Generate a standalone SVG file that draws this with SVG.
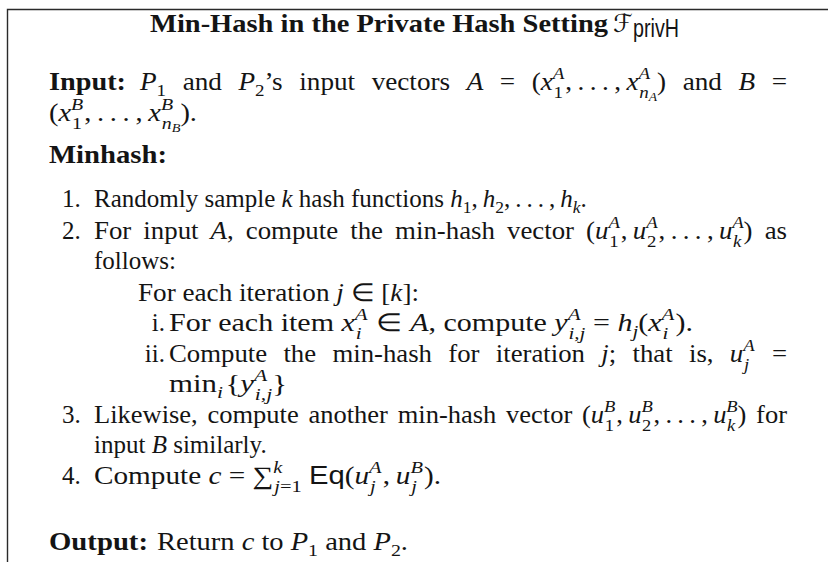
<svg xmlns="http://www.w3.org/2000/svg" width="828" height="562" viewBox="0 0 828 562">
<style>
text{font-family:"Liberation Serif","Times New Roman",serif;font-size:25px;fill:#141414}
.b{font-weight:bold}
.i{font-style:italic}
.s{font-size:17.5px}
.ss{font-size:12.5px}
.sf{font-family:"Liberation Sans",Arial,sans-serif;font-style:normal}
.cal{font-family:"DejaVu Serif","DejaVu Sans",serif;font-style:italic}
.frame{fill:none;stroke:#2a2a2a;stroke-width:1.4}
</style>
<rect width="828" height="562" fill="#fff"/>
<g id="frame"><path class="frame" d="M7.5,562 V9.5 H828"/></g>
<g id="title">
<text class="b" x="150" y="32" font-size="23" textLength="458" lengthAdjust="spacingAndGlyphs">Min-Hash in the Private Hash Setting</text>
<text class="cal" x="613" y="32" font-size="23">ℱ</text>
<text class="sf" x="633" y="37" font-size="15" textLength="46" lengthAdjust="spacingAndGlyphs">privH</text>
</g>
<g id="input">
<text class="b" x="49" y="90" textLength="77" lengthAdjust="spacingAndGlyphs">Input:</text>
<text x="140" y="90" word-spacing="9" textLength="647" lengthAdjust="spacingAndGlyphs"><tspan class="i">P</tspan><tspan class="s" dy="6">1</tspan><tspan dy="-6"> and </tspan><tspan class="i">P</tspan><tspan class="s" dy="6">2</tspan><tspan dy="-6">’s input vectors </tspan><tspan class="i">A</tspan> = (<tspan class="i">x</tspan><tspan class="s i" dy="-11">A</tspan><tspan class="s" dx="-10" dy="19">1</tspan><tspan dy="-8" dx="2">,&#8201;.&#8201;.&#8201;.&#8201;,&#8201;</tspan><tspan class="i">x</tspan><tspan class="s i" dy="-11">A</tspan><tspan class="s i" dx="-10" dy="19">n</tspan><tspan class="ss i" dy="3">A</tspan><tspan dy="-11">) and </tspan><tspan class="i">B</tspan> =</text>
<text x="49" y="121" textLength="148" lengthAdjust="spacingAndGlyphs">(<tspan class="i">x</tspan><tspan class="s i" dy="-11">B</tspan><tspan class="s" dx="-10" dy="19">1</tspan><tspan dy="-8" dx="2">,&#8201;.&#8201;.&#8201;.&#8201;,&#8201;</tspan><tspan class="i">x</tspan><tspan class="s i" dy="-11">B</tspan><tspan class="s i" dx="-10" dy="19">n</tspan><tspan class="ss i" dy="3">B</tspan><tspan dy="-11">).</tspan></text>
</g>
<g id="minhash">
<text class="b" x="49" y="163" textLength="118" lengthAdjust="spacingAndGlyphs">Minhash:</text>
<text x="62" y="207">1.</text>
<text x="94" y="207">Randomly sample <tspan class="i">k</tspan> hash functions <tspan class="i">h</tspan><tspan class="s" dy="6">1</tspan><tspan dy="-6">,&#8201;</tspan><tspan class="i">h</tspan><tspan class="s" dy="6">2</tspan><tspan dy="-6">,&#8201;.&#8201;.&#8201;.&#8201;,&#8201;</tspan><tspan class="i">h</tspan><tspan class="s i" dy="6">k</tspan><tspan dy="-6">.</tspan></text>
<text x="62" y="239">2.</text>
<text x="94" y="239" word-spacing="5" textLength="693" lengthAdjust="spacingAndGlyphs">For input <tspan class="i">A</tspan>, compute the min-hash vector (<tspan class="i">u</tspan><tspan class="s i" dy="-11">A</tspan><tspan class="s" dx="-10" dy="19">1</tspan><tspan dy="-8" dx="2">,&#8201;</tspan><tspan class="i">u</tspan><tspan class="s i" dy="-11">A</tspan><tspan class="s" dx="-10" dy="19">2</tspan><tspan dy="-8" dx="2">,&#8201;.&#8201;.&#8201;.&#8201;,&#8201;</tspan><tspan class="i">u</tspan><tspan class="s i" dy="-11">A</tspan><tspan class="s i" dx="-10" dy="19">k</tspan><tspan dy="-8" dx="2">) as</tspan></text>
<text x="94" y="269">follows:</text>
<text x="138" y="301" textLength="281" lengthAdjust="spacingAndGlyphs">For each iteration <tspan class="i">j</tspan> ∈ [<tspan class="i">k</tspan>]:</text>
<text x="165" y="331" text-anchor="end">i.</text>
<text x="169" y="331" textLength="524" lengthAdjust="spacingAndGlyphs">For each item <tspan class="i">x</tspan><tspan class="s i" dy="-11">A</tspan><tspan class="s i" dx="-10" dy="19">i</tspan><tspan dy="-8" dx="6"> ∈ </tspan><tspan class="i">A</tspan>, compute <tspan class="i">y</tspan><tspan class="s i" dy="-11">A</tspan><tspan class="s i" dx="-10" dy="19">i,j</tspan><tspan dy="-8"> = </tspan><tspan class="i">h</tspan><tspan class="s i" dy="6">j</tspan><tspan dy="-6">(</tspan><tspan class="i">x</tspan><tspan class="s i" dy="-11">A</tspan><tspan class="s i" dx="-10" dy="19">i</tspan><tspan dy="-8" dx="6">).</tspan></text>
<text x="165" y="362" text-anchor="end">ii.</text>
<text x="169" y="362" word-spacing="9" textLength="618" lengthAdjust="spacingAndGlyphs">Compute the min-hash for iteration <tspan class="i">j</tspan>; that is, <tspan class="i">u</tspan><tspan class="s i" dy="-11">A</tspan><tspan class="s i" dx="-10" dy="19">j</tspan><tspan dy="-8" dx="6"> =</tspan></text>
<text x="169" y="392" textLength="118" lengthAdjust="spacingAndGlyphs">min<tspan class="s i" dy="6">i</tspan><tspan dy="-6" dx="2">{</tspan><tspan class="i">y</tspan><tspan class="s i" dy="-11">A</tspan><tspan class="s i" dx="-10" dy="19">i,j</tspan><tspan dy="-8">}</tspan></text>
<text x="62" y="423">3.</text>
<text x="94" y="423" word-spacing="3" textLength="693" lengthAdjust="spacingAndGlyphs">Likewise, compute another min-hash vector (<tspan class="i">u</tspan><tspan class="s i" dy="-11">B</tspan><tspan class="s" dx="-10" dy="19">1</tspan><tspan dy="-8" dx="2">,&#8201;</tspan><tspan class="i">u</tspan><tspan class="s i" dy="-11">B</tspan><tspan class="s" dx="-10" dy="19">2</tspan><tspan dy="-8" dx="2">,&#8201;.&#8201;.&#8201;.&#8201;,&#8201;</tspan><tspan class="i">u</tspan><tspan class="s i" dy="-11">B</tspan><tspan class="s i" dx="-10" dy="19">k</tspan><tspan dy="-8" dx="2">) for</tspan></text>
<text x="94" y="453">input <tspan class="i">B</tspan> similarly.</text>
<text x="62" y="484">4.</text>
<text x="94" y="484" textLength="347" lengthAdjust="spacingAndGlyphs">Compute <tspan class="i">c</tspan> = ∑<tspan class="s i" dy="-11">k</tspan><tspan class="s i" dx="-7" dy="19">j</tspan><tspan class="s">=1</tspan><tspan dy="-8"> </tspan><tspan class="sf">Eq</tspan>(<tspan class="i">u</tspan><tspan class="s i" dy="-11">A</tspan><tspan class="s i" dx="-10" dy="19">j</tspan><tspan dy="-8" dx="6">,&#8201;</tspan><tspan class="i">u</tspan><tspan class="s i" dy="-11">B</tspan><tspan class="s i" dx="-10" dy="19">j</tspan><tspan dy="-8" dx="6">).</tspan></text>
</g>
<g id="output">
<text class="b" x="49" y="550" textLength="99" lengthAdjust="spacingAndGlyphs">Output:</text>
<text x="157" y="550" textLength="251" lengthAdjust="spacingAndGlyphs">Return <tspan class="i">c</tspan> to <tspan class="i">P</tspan><tspan class="s" dy="6">1</tspan><tspan dy="-6"> and </tspan><tspan class="i">P</tspan><tspan class="s" dy="6">2</tspan><tspan dy="-6">.</tspan></text>
</g>
</svg>
